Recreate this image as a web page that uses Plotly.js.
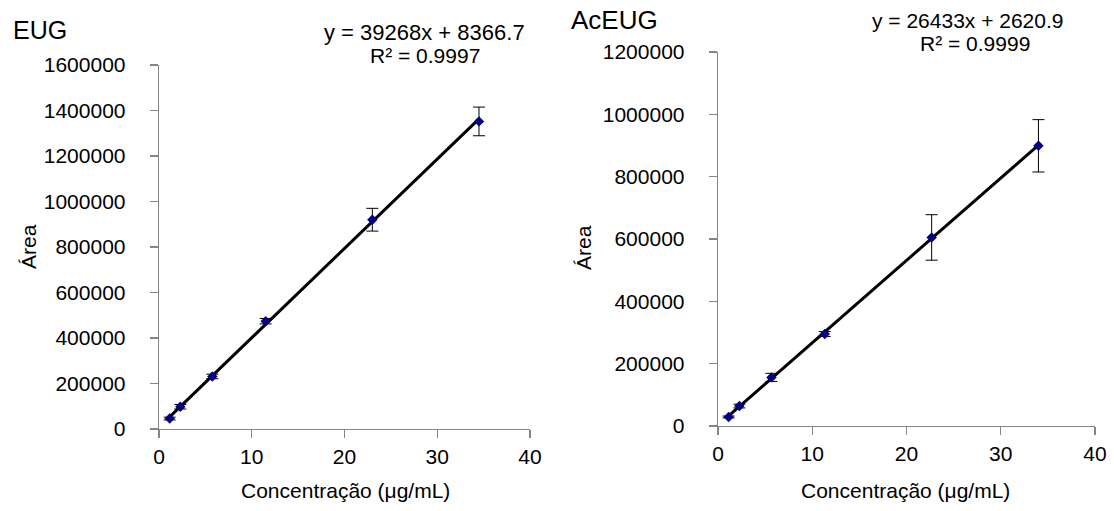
<!DOCTYPE html>
<html>
<head>
<meta charset="utf-8">
<script src="https://cdn.plot.ly/plotly-3.0.1.min.js"></script>
<style>html,body{margin:0;padding:0;background:#fff;}#chart{width:1114px;height:511px;}</style>
</head>
<body>
<div id="chart"></div>
<script>
// EUG data
const eugConc = [1.15, 2.3, 5.75, 11.5, 23, 34.5];
const eugArea = [46000, 98000, 231000, 474000, 920000, 1352000];
const eugErr = [6000, 10000, 10000, 12000, 50000, 63000];
const eugFit = [39268, 8366.7]; // slope, intercept
// AcEUG data
const acConc = [1.13, 2.27, 5.67, 11.33, 22.67, 34.0];
const acArea = [29000, 64000, 156000, 295000, 605000, 899000];
const acErr = [3000, 6000, 13000, 8000, 73000, 84000];
const acFit = [26433, 2620.9];
const xTicks = [0, 10, 20, 30, 40];

const W = 1114, H = 511;
const FONT = 'Liberation Sans, Arial, sans-serif';
const fs = 21;

function fitLine(xs, fit) {
  const lo = Math.min(...xs), hi = Math.max(...xs);
  return {x: [lo, hi], y: [fit[0] * lo + fit[1], fit[0] * hi + fit[1]]};
}
const l1 = fitLine(eugConc, eugFit);
const l2 = fitLine(acConc, acFit);

const traces = [
  {x: l1.x, y: l1.y, mode: 'lines', line: {color: '#000', width: 3}, xaxis: 'x', yaxis: 'y', hoverinfo: 'skip'},
  {x: eugConc, y: eugArea, mode: 'markers', marker: {symbol: 'diamond', size: 8, color: '#000080'},
   error_y: {type: 'data', array: eugErr, visible: true, color: '#000', thickness: 1, width: 6}, xaxis: 'x', yaxis: 'y'},
  {x: l2.x, y: l2.y, mode: 'lines', line: {color: '#000', width: 3}, xaxis: 'x2', yaxis: 'y2', hoverinfo: 'skip'},
  {x: acConc, y: acArea, mode: 'markers', marker: {symbol: 'diamond', size: 8, color: '#000080'},
   error_y: {type: 'data', array: acErr, visible: true, color: '#000', thickness: 1, width: 6}, xaxis: 'x2', yaxis: 'y2'}
];

function px(x) { return x / W; }
function py(y) { return 1 - y / H; }

const axCommon = {
  showgrid: false, zeroline: false, showline: true, linecolor: '#868686', linewidth: 1.3,
  ticks: 'outside', ticklen: 8, tickcolor: '#868686', tickwidth: 1.3,
  tickfont: {family: FONT, size: fs, color: '#000'}, fixedrange: true
};

const layout = {
  width: W, height: H, margin: {l: 0, r: 0, t: 0, b: 0},
  paper_bgcolor: '#fff', plot_bgcolor: 'rgba(0,0,0,0)', showlegend: false,
  font: {family: FONT, size: fs, color: '#000'},
  xaxis: Object.assign({}, axCommon, {domain: [px(159), px(530)], range: [0, 40], tickvals: xTicks, anchor: 'y', ticklabelstandoff: 0}),
  yaxis: Object.assign({}, axCommon, {domain: [py(429), py(65)], range: [0, 1600000], dtick: 200000, tickformat: 'd', anchor: 'x', ticklabelstandoff: 20}),
  xaxis2: Object.assign({}, axCommon, {domain: [px(718), px(1095)], range: [0, 40], tickvals: xTicks, anchor: 'y2', ticklabelstandoff: 0}),
  yaxis2: Object.assign({}, axCommon, {domain: [py(426), py(52)], range: [0, 1200000], dtick: 200000, tickformat: 'd', anchor: 'x2', ticklabelstandoff: 20}),
  annotations: [
    {text: 'EUG', x: px(11), y: py(30), xanchor: 'left', yanchor: 'middle', font: {size: 25}},
    {text: 'y = 39268x + 8366.7', x: px(424), y: py(33), xanchor: 'center', yanchor: 'middle', font: {size: 22}},
    {text: 'R² = 0.9997', x: px(425), y: py(55), xanchor: 'center', yanchor: 'middle'},
    {text: 'Área', x: px(28), y: py(247), xanchor: 'center', yanchor: 'middle', textangle: -90},
    {text: 'Concentração (μg/mL)', x: px(345), y: py(490), xanchor: 'center', yanchor: 'middle'},
    {text: 'AcEUG', x: px(569), y: py(20), xanchor: 'left', yanchor: 'middle', font: {size: 26}},
    {text: 'y = 26433x + 2620.9', x: px(968), y: py(21), xanchor: 'center', yanchor: 'middle'},
    {text: 'R² = 0.9999', x: px(975), y: py(43), xanchor: 'center', yanchor: 'middle'},
    {text: 'Área', x: px(583), y: py(248), xanchor: 'center', yanchor: 'middle', textangle: -90},
    {text: 'Concentração (μg/mL)', x: px(905), y: py(490), xanchor: 'center', yanchor: 'middle'}
  ].map(a => Object.assign({xref: 'paper', yref: 'paper', showarrow: false}, a))
};

Plotly.newPlot('chart', traces, layout, {staticPlot: true, displayModeBar: false});
</script>
</body>
</html>
